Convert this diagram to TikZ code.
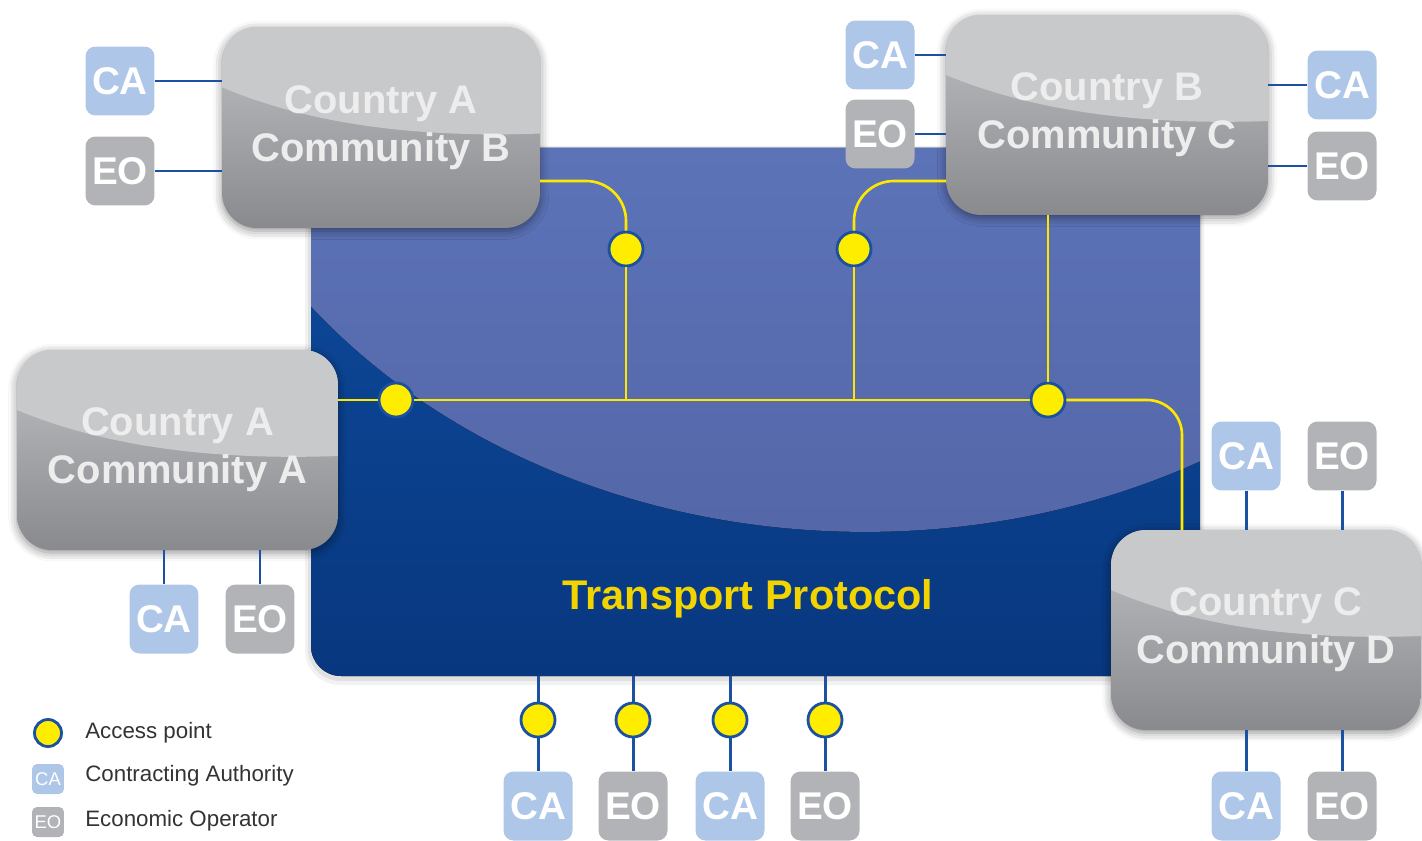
\documentclass[tikz,border=0pt]{standalone}
\usepackage{fontspec}
\setmainfont{Liberation Sans}
\usetikzlibrary{shadows.blur,calc}
\definecolor{darktop}{HTML}{0E4CA0}
\definecolor{darkbot}{HTML}{08377E}
\definecolor{lighttop}{HTML}{5C73B8}
\definecolor{lightbot}{HTML}{5467A8}
\definecolor{gtop}{HTML}{C0C1C4}
\definecolor{gbot}{HTML}{898A8D}
\definecolor{glosscol}{HTML}{C8C9CB}
\definecolor{cafill}{HTML}{AEC7E8}
\definecolor{eofill}{HTML}{B2B3B6}
\definecolor{bluel}{HTML}{1B50A2}
\definecolor{yell}{HTML}{FFE800}
\definecolor{dotfill}{HTML}{FFED00}
\definecolor{tpyellow}{HTML}{F2D500}
\definecolor{boxtext}{HTML}{EDEDEE}
\definecolor{legtext}{HTML}{333333}
\begin{document}
\begin{tikzpicture}[x=0.02cm,y=-0.02cm,
  bigbox/.style={rectangle, rounded corners=0.7cm, inner sep=0pt, align=center,
    text=boxtext, font=\fontsize{22.7}{27.2}\selectfont\bfseries,
    top color=gtop, bottom color=gbot,
    blur shadow={shadow xshift=0pt, shadow yshift=-1.5pt, shadow blur radius=5pt, shadow opacity=45},
    path picture={\fill[glosscol, sharp corners] let \p1=(path picture bounding box.north west),
      \p2=(path picture bounding box.south east) in
      (\x1,\y1) -- (\x1,{\y1+0.3*(\y2-\y1)})
      .. controls ({\x1+0.3*(\x2-\x1)},{\y1+0.5*(\y2-\y1)}) and ({\x1+0.65*(\x2-\x1)},{\y1+0.55*(\y2-\y1)})
      .. (\x2,{\y1+0.53*(\y2-\y1)}) -- (\x2,\y1) -- cycle;}},
  smallbox/.style={rectangle, rounded corners=0.2cm, minimum width=1.38cm, minimum height=1.38cm,
    inner sep=0pt, text=white, font=\fontsize{22}{22}\selectfont\bfseries},
  cabox/.style={smallbox, fill=cafill},
  eobox/.style={smallbox, fill=eofill},
  legbox/.style={minimum width=0.64cm, minimum height=0.6cm, rounded corners=0.1cm,
    font=\fontsize{10.5}{10.5}\selectfont},
  apt/.style={circle, fill=dotfill, draw=bluel, line width=1.6pt, minimum size=0.68cm, inner sep=0pt},
  yl/.style={draw=yell, line width=1.5pt},
  bl/.style={draw=bluel, line width=1.7pt},
  legtxt/.style={anchor=west, inner sep=0pt, text=legtext, font=\fontsize{12.7}{14}\selectfont}
]
\useasboundingbox (0,0) rectangle (1422,841);

% transport panel
\fill[black, opacity=0.05, rounded corners=0.7cm] (305,146) rectangle (1204,685);
\fill[black, opacity=0.07, rounded corners=0.65cm] (308,147) rectangle (1202,681);
\fill[top color=darktop, bottom color=darkbot, rounded corners=0.6cm] (311,148) rectangle (1200,676);
\begin{scope}
  \clip[rounded corners=0.6cm] (311,148) rectangle (1200,676);
  \clip (865,-48) ellipse [x radius=14cm, y radius=11.6cm];
  \fill[top color=lighttop, bottom color=lightbot] (311,148) rectangle (1200,532);
\end{scope}
\coordinate (pbot) at (755,676);

\node[text=tpyellow, font=\fontsize{23.6}{28}\selectfont\bfseries] (tp) at (748,599) {Transport Protocol};

% communities
\node[bigbox, minimum width=6.36cm, minimum height=4.02cm] (AB) at (381,127.5) {Country A\\Community B};
\node[bigbox, minimum width=6.44cm, minimum height=4cm] (BC) at (1107,115) {Country B\\Community C};
\node[bigbox, minimum width=6.42cm, minimum height=4cm] (AA) at (177.5,450) {Country A\\Community A};
\node[bigbox, minimum width=6.2cm, minimum height=4cm] (CD) at (1266,630) {Country C\\Community D};

% CA / EO boxes
\node[cabox] (ca1) at (120,81) {CA};
\node[eobox] (eo1) at (120,171) {EO};
\node[cabox] (ca2) at (880,55) {CA};
\node[eobox] (eo2) at (880,134) {EO};
\node[cabox] (ca3) at (1342,85) {CA};
\node[eobox] (eo3) at (1342,166) {EO};
\node[cabox] (ca4) at (164,619) {CA};
\node[eobox] (eo4) at (260,619) {EO};
\node[cabox] (ca5) at (1246,456) {CA};
\node[eobox] (eo5) at (1342,456) {EO};
\node[cabox] (ca6) at (1246,806) {CA};
\node[eobox] (eo6) at (1342,806) {EO};
\node[cabox] (b1) at (538,806) {CA};
\node[eobox] (b2) at (633,806) {EO};
\node[cabox] (b3) at (730,806) {CA};
\node[eobox] (b4) at (825,806) {EO};

% access points
\node[apt] (p1) at (396,400) {};
\node[apt] (p2) at (626,249) {};
\node[apt] (p3) at (854,249) {};
\node[apt] (p4) at (1048,400) {};
\node[apt] (q1) at (538,720) {};
\node[apt] (q2) at (633,720) {};
\node[apt] (q3) at (730,720) {};
\node[apt] (q4) at (825,720) {};

% legend
\node[apt, minimum size=0.54cm] (lg1) at (48,733) {};
\node[cabox, legbox] (lg2) at (48,779) {CA};
\node[eobox, legbox] (lg3) at (48,822) {EO};
\node[legtxt] (lt1) at (85,733) {Access point};
\node[legtxt] (lt2) at (85,776) {Contracting Authority};
\node[legtxt] (lt3) at (85,821) {Economic Operator};

\coordinate (about) at (540,181);
\coordinate (bcin) at (946,181);
\coordinate (cdin) at (1182,530);

% yellow network
\draw[yl] (AA.east |- p1) -- (p1) -- (p4);
\draw[yl, rounded corners=0.7cm] (p4) -| (cdin);
\draw[yl] (p2) -- (p2 |- p1);
\draw[yl, rounded corners=0.8cm] (p2) |- (about);
\draw[yl] (p3) -- (p3 |- p1);
\draw[yl, rounded corners=0.8cm] (p3) |- (bcin);
\draw[yl] (BC.south -| p4) -- (p4);
% blue links
\draw[bl] (ca1) -- (ca1 -| AB.west);
\draw[bl] (eo1) -- (eo1 -| AB.west);
\draw[bl] (ca2) -- (ca2 -| BC.west);
\draw[bl] (eo2) -- (eo2 -| BC.west);
\draw[bl] (ca3) -- (ca3 -| BC.east);
\draw[bl] (eo3) -- (eo3 -| BC.east);
\draw[bl] (ca4) -- (ca4 |- AA.south);
\draw[bl] (eo4) -- (eo4 |- AA.south);
\draw[bl] (ca5) -- (ca5 |- CD.north);
\draw[bl] (eo5) -- (eo5 |- CD.north);
\draw[bl] (ca6) -- (ca6 |- CD.south);
\draw[bl] (eo6) -- (eo6 |- CD.south);
\draw[bl] (q1 |- pbot) -- (q1) -- (b1);
\draw[bl] (q2 |- pbot) -- (q2) -- (b2);
\draw[bl] (q3 |- pbot) -- (q3) -- (b3);
\draw[bl] (q4 |- pbot) -- (q4) -- (b4);
\end{tikzpicture}
\end{document}
